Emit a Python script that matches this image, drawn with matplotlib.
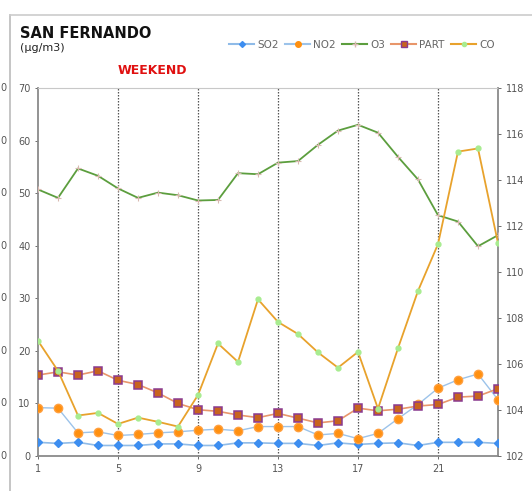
import matplotlib.pyplot as plt
from matplotlib.lines import Line2D

hours = list(range(1, 25))

so2 = [2.6, 2.4, 2.6, 2.0, 2.0, 2.0, 2.3, 2.3, 2.0, 2.0, 2.5, 2.5,
       2.4, 2.4, 2.0, 2.5, 2.2, 2.4, 2.5, 2.0, 2.6, 2.6, 2.6, 2.4]
no2 = [9.2, 9.1, 4.4, 4.6, 3.9, 4.1, 4.4, 4.6, 4.9, 5.1, 4.8, 5.6,
       5.6, 5.6, 4.0, 4.3, 3.3, 4.3, 7.1, 9.8, 12.9, 14.5, 15.6, 10.7]
o3 = [50.7, 49.1, 54.7, 53.3, 50.9, 49.1, 50.1, 49.6, 48.6, 48.7, 53.8, 53.6,
      55.8, 56.1, 59.2, 61.9, 63.0, 61.5, 56.9, 52.6, 45.8, 44.6, 39.9, 42.0]
part = [15.4, 16.0, 15.4, 16.2, 14.4, 13.6, 12.0, 10.0, 8.8, 8.5, 7.8, 7.3,
        8.1, 7.2, 6.3, 6.7, 9.1, 8.6, 8.9, 9.5, 9.8, 11.2, 11.4, 12.8]
co = [21.9, 16.2, 7.7, 8.2, 6.1, 7.3, 6.5, 5.6, 11.6, 21.4, 17.9, 29.8,
      25.5, 23.2, 19.7, 16.8, 19.8, 9.0, 20.5, 31.4, 40.3, 57.9, 58.5, 40.5]

left_ticks = [0, 10, 20, 30, 40, 50, 60, 70]
right_ticks = [102, 104, 106, 108, 110, 112, 114, 116, 118]
grid_hours = [5, 9, 13, 17, 21]
xtick_hours = [1, 5, 9, 13, 17, 21]

fig = plt.figure(figsize=(5.32, 4.91), dpi=100)
ax = fig.add_axes([38 / 532, 1 - 456 / 491, 460 / 532, 368 / 491])

for h in grid_hours:
    ax.axvline(h, color='#555555', lw=0.9, ls=(0, (1.2, 1.2)), zorder=1)

ax.plot(hours, so2, color='#8fbbe8', lw=1.2, marker='D', ms=3.8,
        mfc='#3d8ef0', mec='#3d8ef0', zorder=5)
ax.plot(hours, no2, color='#9cc3ea', lw=1.0, marker='o', ms=6,
        mfc='#ff9010', mec='#ffa040', zorder=5)
ax.plot(hours, o3, color='#5c9e3e', lw=1.3, marker='+', ms=5,
        mec='#d8b8b0', mew=0.8, zorder=4)
ax.plot(hours, part, color='#e8966a', lw=1.2, marker='s', ms=5.8,
        mfc='#c8641e', mec='#8a3a90', mew=1.1, zorder=5)
ax.plot(hours, co, color='#e8a22c', lw=1.3, marker='o', ms=3.5,
        mfc='#a8ec90', mec='#a8ec90', zorder=6)

ax.set_xlim(1, 24)
ax.set_ylim(0, 70)
ax.set_xticks(xtick_hours)
ax.set_yticks(left_ticks)
ax.tick_params(labelsize=7, colors='#555555', length=2, width=0.6)
for s in ['left', 'bottom', 'right']:
    ax.spines[s].set_color('#8a8a8a')
    ax.spines[s].set_linewidth(1.3)
ax.spines['top'].set_color('#c8c8c8')

ax2 = ax.twinx()
ax2.set_ylim(102, 118)
ax2.set_yticks(right_ticks)
ax2.tick_params(labelsize=7, colors='#555555', length=2, width=0.6)
for s in ax2.spines.values():
    s.set_visible(False)

# outer frame and the neighbouring chart's tick labels (only their last digit shows)
fig.add_artist(Line2D([10 / 532, 10 / 532], [0, 1 - 15 / 491], color='#bbbbbb', lw=1.2))
fig.add_artist(Line2D([10 / 532, 1], [1 - 15 / 491, 1 - 15 / 491], color='#cccccc', lw=1.2))
for v in left_ticks:
    y = 1 - (456 - v * 368 / 70) / 491
    fig.text(0.5 / 532, y, '0', ha='left', va='center', fontsize=7, color='#555555')

fig.text(20 / 532, 1 - 33 / 491, 'SAN FERNANDO', fontsize=10.5, fontweight='bold',
         va='center', color='#111111')
fig.text(20 / 532, 1 - 48 / 491, '(µg/m3)', fontsize=8, va='center', color='#222222')
fig.text(118 / 532, 1 - 71 / 491, 'WEEKEND', fontsize=9, fontweight='bold',
         va='center', color='#e01010')

handles = [
    Line2D([], [], color='#8fbbe8', marker='D', ms=3, mfc='#3d8ef0', mec='#3d8ef0'),
    Line2D([], [], color='#9cc3ea', marker='o', ms=4, mfc='#ff9010', mec='#ff9010'),
    Line2D([], [], color='#5c9e3e', marker='+', ms=4, mec='#d8b8b0'),
    Line2D([], [], color='#e8966a', marker='s', ms=4, mfc='#c8641e', mec='#8a3a90'),
    Line2D([], [], color='#e8a22c', marker='o', ms=3, mfc='#a8ec90', mec='#a8ec90'),
]
fig.legend(handles, ['SO2', 'NO2', 'O3', 'PART', 'CO'], loc='center',
           bbox_to_anchor=(362 / 532, 1 - 45 / 491), ncol=5, frameon=False,
           fontsize=7.5, handlelength=2.4, handletextpad=0.3, columnspacing=0.6,
           labelcolor='#666666')

fig.savefig('out.png', dpi=100)
